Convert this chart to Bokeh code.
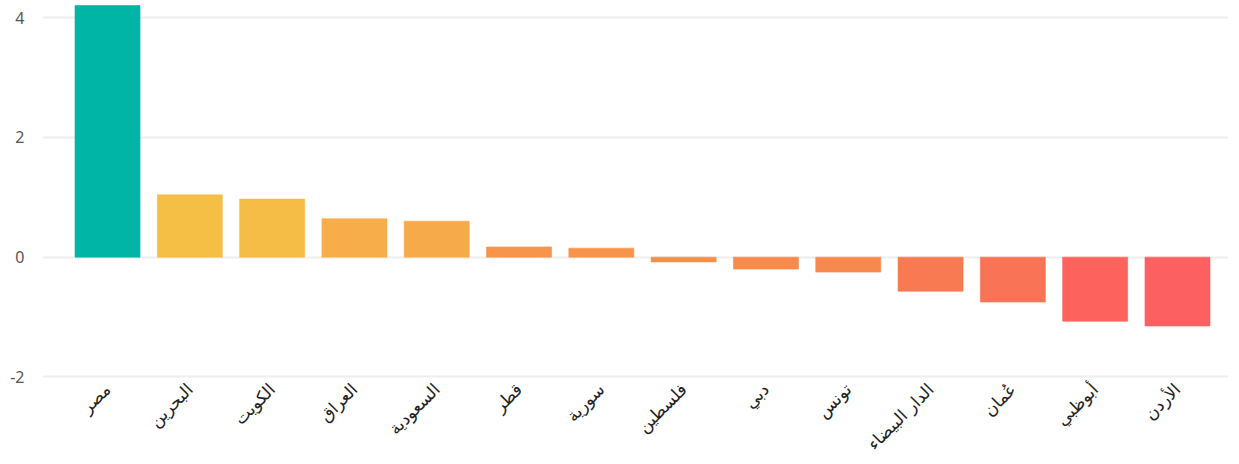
from bokeh.plotting import figure
from bokeh.models import Range1d, FixedTicker, ColumnDataSource
from bokeh.embed import file_html
from bokeh.resources import INLINE
import math

categories = ["مصر", "البحرين", "الكويت", "العراق", "السعودية", "قطر", "سورية",
              "فلسطين", "دبي", "تونس", "الدار البيضاء", "عُمان", "أبوظبي", "الأردن"]
values = [4.20, 1.04, 0.97, 0.64, 0.60, 0.17, 0.15,
          -0.08, -0.20, -0.25, -0.57, -0.75, -1.07, -1.15]
colors = ["#01B5A6", "#F5BE45", "#F5BC46", "#F6AD4A", "#F6AA4A", "#F7954A", "#F7944B",
          "#F78F4B", "#F78A4C", "#F7894F", "#F87A52", "#F97356", "#FD635C", "#FD6060"]
y_ticks = [-2, 0, 2, 4]
y_tick_labels = ["-2", "0", "2", "4"]

idx = list(range(len(categories)))
src = ColumnDataSource(dict(x=idx, top=values, color=colors))

p = figure(width=1231, height=464, output_backend="svg", toolbar_location=None,
           x_range=Range1d(-0.79, len(categories) - 0.5 + 0.12),
           y_range=Range1d(-2.06, 4.285),
           min_border_left=42, min_border_right=3, min_border_top=0, min_border_bottom=84)

p.vbar(x="x", top="top", bottom=0, width=0.79, fill_color="color", line_color="color",
       line_alpha=0.6, source=src)

p.outline_line_color = None
p.xgrid.grid_line_color = None
p.ygrid.grid_line_color = "#eeeeee"
p.ygrid.grid_line_width = 2

p.yaxis.ticker = FixedTicker(ticks=y_ticks)
p.yaxis.major_label_overrides = {t: s for t, s in zip(y_ticks, y_tick_labels)}
p.yaxis.axis_line_color = None
p.yaxis.major_tick_line_color = None
p.yaxis.minor_tick_line_color = None
p.yaxis.major_label_text_font = "Noto Sans"
p.yaxis.major_label_text_font_size = "16px"
p.yaxis.major_label_text_color = "#555555"
p.yaxis.major_label_standoff = 12

p.xaxis.ticker = FixedTicker(ticks=idx)
p.xaxis.major_label_overrides = {i: c for i, c in zip(idx, categories)}
p.xaxis.axis_line_color = None
p.xaxis.major_tick_line_color = None
p.xaxis.minor_tick_line_color = None
p.xaxis.major_label_orientation = math.pi / 4
p.xaxis.major_label_text_font = "DejaVu Sans"
p.xaxis.major_label_text_font_size = "17px"
p.xaxis.major_label_text_color = "#222222"
p.xaxis.major_label_standoff = 0

open("out.html", "w").write(file_html(p, INLINE))
